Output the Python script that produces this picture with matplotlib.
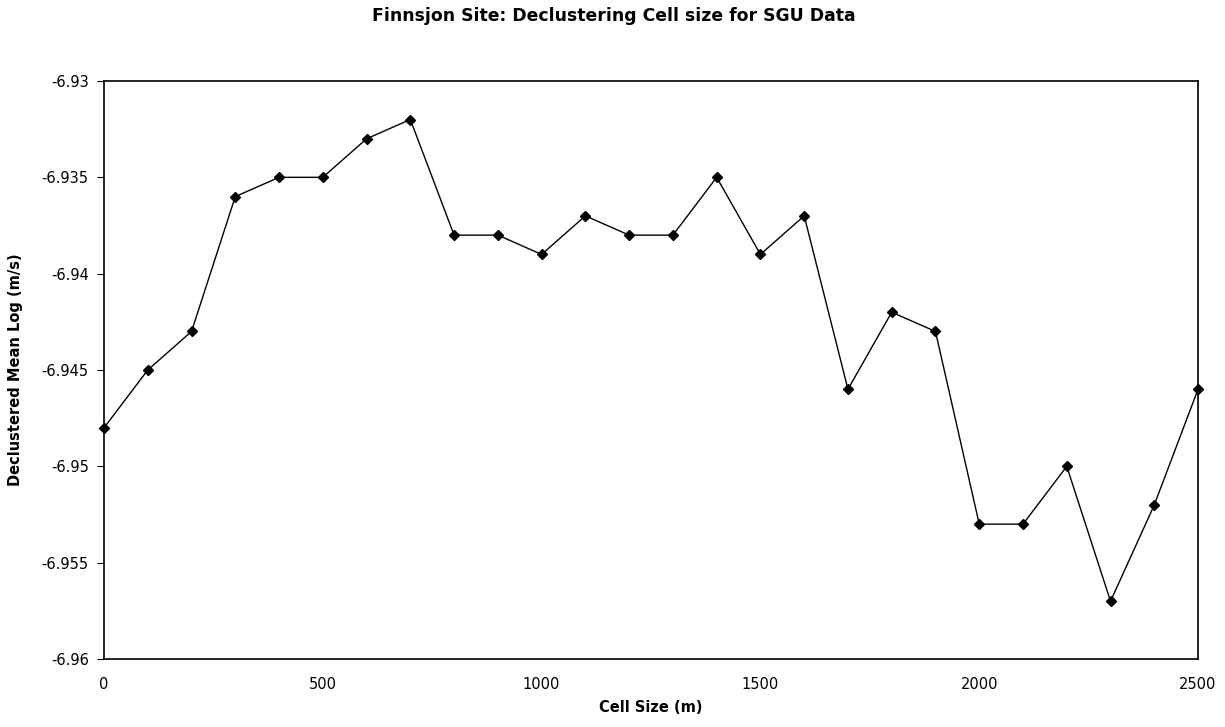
import matplotlib
matplotlib.use("Agg")
import matplotlib.pyplot as plt

plt.rcParams['font.family'] = ['DejaVu Sans']

cell_size = [0, 100, 200, 300, 400, 500, 600, 700, 800, 900, 1000, 1100, 1200,
             1300, 1400, 1500, 1600, 1700, 1800, 1900, 2000, 2100, 2200, 2300,
             2400, 2500]
mean_log = [-6.948, -6.945, -6.943, -6.936, -6.935, -6.935, -6.933, -6.932,
            -6.938, -6.938, -6.939, -6.937, -6.938, -6.938, -6.935, -6.939,
            -6.937, -6.946, -6.942, -6.943, -6.953, -6.953, -6.950, -6.957,
            -6.952, -6.946]
x_ticks = [0, 500, 1000, 1500, 2000, 2500]
y_ticks = [-6.96, -6.955, -6.95, -6.945, -6.94, -6.935, -6.93]
y_labels = ['-6.96', '-6.955', '-6.95', '-6.945', '-6.94', '-6.935', '-6.93']

fig = plt.figure(figsize=(12.25, 7.27), dpi=100)
ax = fig.add_axes([0.0849, 0.0935, 0.8931, 0.7951])

ax.plot(cell_size, mean_log, color='black', linewidth=1.0,
        marker='D', markersize=5, markerfacecolor='black', clip_on=False)

ax.set_xlim(0, 2500)
ax.set_ylim(-6.96, -6.93)
ax.set_xticks(x_ticks)
ax.set_xticklabels([str(v) for v in x_ticks])
ax.set_yticks(y_ticks)
ax.set_yticklabels(y_labels)
ax.tick_params(axis='x', length=0, pad=13, labelsize=10.5)
ax.tick_params(axis='y', length=5, direction='out', pad=6, labelsize=10.5)
for s in ax.spines.values():
    s.set_linewidth(1.2)

ax.set_xlabel('Cell Size (m)', fontsize=10.5, fontweight='bold', va='top')
ax.xaxis.set_label_coords(0.5, -0.071)
ax.set_ylabel('Declustered Mean Log (m/s)', fontsize=10.5, fontweight='bold')
ax.yaxis.set_label_coords(-0.074, 0.5)
fig.text(0.501, 0.978, 'Finnsjon Site: Declustering Cell size for SGU Data',
         fontsize=12.4, fontweight='bold', ha='center', va='center')

fig.savefig('out.png', dpi=100)
